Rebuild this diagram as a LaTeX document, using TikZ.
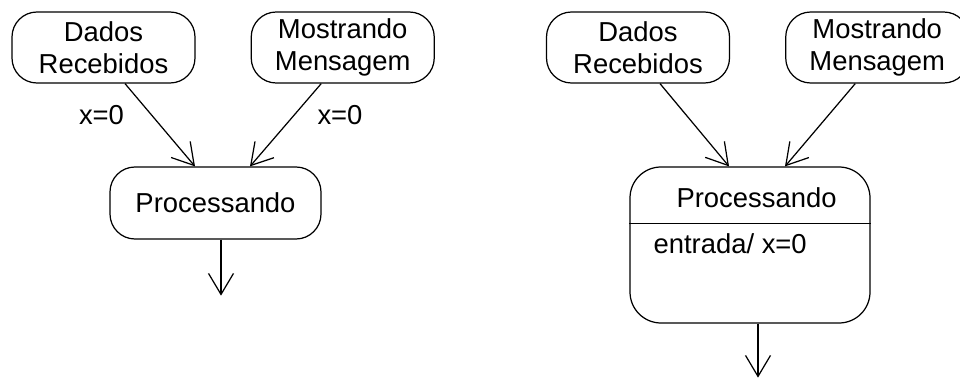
\documentclass[tikz,border=0pt]{standalone}
\usepackage{fontspec}
\setmainfont{Liberation Sans}
\usepackage{tikz}
\usetikzlibrary{arrows.meta,positioning,calc}
\tikzset{
  statebox/.style={draw, rounded corners=0.5cm, line width=0.7pt,
                   minimum width=3.66cm, minimum height=1.42cm,
                   font=\fontsize{15.6}{18}\selectfont, align=center,
                   inner sep=1pt},
  bigstate/.style={draw, rounded corners=0.62cm, line width=0.7pt,
                   minimum width=4.8cm, minimum height=3.12cm, inner sep=0pt},
  guardlbl/.style={font=\fontsize{15.6}{18}\selectfont, anchor=base},
  trans/.style={-{Straight Barb[length=4.2mm, width=5mm]}, line width=0.7pt}
}
\begin{document}
\begin{tikzpicture}[node distance=1.1cm]
    \useasboundingbox (0,0) rectangle (19.2,7.56);

    % transicoes com guarda
    \node[statebox] (dr) at (2.07,6.61) {Dados\\Recebidos};
    \node[statebox, right=of dr] (mm) {Mostrando\\Mensagem};
    \node[statebox, minimum width=4.22cm, minimum height=1.44cm] (pr) at (4.31,3.50) {Processando};

    \draw[trans] ($(dr.south)+(0.43,0)$) -- ($(pr.north)+(-0.41,0)$);
    \draw[trans] ($(mm.south)+(-0.43,0)$) -- ($(pr.north)+(0.69,0)$);

    \node[guardlbl] (g1) at (2.03,5.06) {x=0};
    \node[guardlbl] (g2) at (6.80,5.06) {x=0};

    \coordinate (out) at ($(pr.south)+(0.11,-1.12)$);
    \draw[trans] ($(pr.south)+(0.11,0)$) -- (out);

    % acao de entrada
    \node[statebox] (dr2) at (12.76,6.61) {Dados\\Recebidos};
    \node[statebox, right=of dr2] (mm2) {Mostrando\\Mensagem};
    \node[bigstate] (pr2) at (15.0,2.66) {};
    \node[guardlbl] (pr2t) at ($(pr2.north)+(0.13,-0.82)$) {Processando};
    \draw[line width=0.7pt] ($(pr2.north west)+(0,-1.14)$) -- ($(pr2.north east)+(0,-1.14)$);
    \node[guardlbl, anchor=base west] (pr2e) at ($(pr2.west)+(0.36,-0.16)$) {entrada/ x=0};

    \draw[trans] ($(dr2.south)+(0.44,0)$) -- ($(pr2.north)+(-0.42,0)$);
    \draw[trans] ($(mm2.south)+(-0.44,0)$) -- ($(pr2.north)+(0.70,0)$);

    \coordinate (out2) at ($(pr2.south)+(0.16,-1.08)$);
    \draw[trans] ($(pr2.south)+(0.16,0)$) -- (out2);
  \end{tikzpicture}
\end{document}
